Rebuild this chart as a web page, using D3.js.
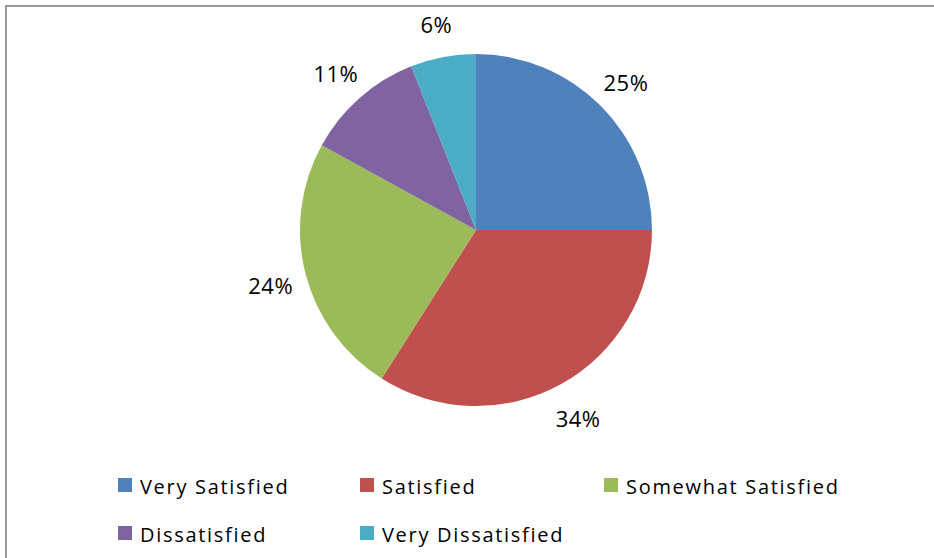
<!DOCTYPE html>
<html>
<head>
<meta charset="utf-8">
<script src="https://cdn.jsdelivr.net/npm/d3@7"></script>
<style>
  html, body { margin: 0; padding: 0; background: #fff; }
  svg { display: block; }
  text { font-family: "Open Sans", "Noto Sans", sans-serif; fill: #000; }
</style>
</head>
<body>
<svg id="chart" width="934" height="558"></svg>
<script>
const categories = ["Very Satisfied", "Satisfied", "Somewhat Satisfied", "Dissatisfied", "Very Dissatisfied"];
const values = [25, 34, 24, 11, 6];
const colors = ["#4F81BD", "#C0504D", "#9BBB59", "#8064A2", "#4BACC6"];

const W = 934, H = 558;
const svg = d3.select("#chart");

// chart frame
svg.append("rect")
  .attr("x", 6).attr("y", 6)
  .attr("width", W + 10).attr("height", H + 10)
  .attr("fill", "none").attr("stroke", "#9a9a9a").attr("stroke-width", 2);

const cx = 476, cy = 230, r = 176;
const total = d3.sum(values);
const data = categories.map((c, i) => ({ cat: c, value: values[i], color: colors[i] }));

const pie = d3.pie().sort(null).value(d => d.value);
const arcs = pie(data);
const arc = d3.arc().innerRadius(0).outerRadius(r);

const g = svg.append("g").attr("transform", `translate(${cx},${cy})`);
g.selectAll("path.slice").data(arcs).enter().append("path")
  .attr("class", "slice")
  .attr("d", arc)
  .attr("fill", d => d.data.color);

// labels outside end
const labelR = 212;
g.selectAll("text.lbl").data(arcs).enter().append("text")
  .attr("class", "lbl")
  .attr("x", d => { const a = (d.startAngle + d.endAngle) / 2; return labelR * Math.sin(a); })
  .attr("y", d => { const a = (d.startAngle + d.endAngle) / 2; return -labelR * Math.cos(a) + 11; })
  .attr("text-anchor", "middle")
  .style("font-size", "22px")
  .style("letter-spacing", "0.5px")
  .text(d => Math.round(d.data.value / total * 100) + "%");

// legend
const colX = [118, 360, 604];
const rowY = [478, 526];
const lg = svg.append("g");
data.forEach((d, i) => {
  const col = i % 3, row = Math.floor(i / 3);
  const x = colX[col], y = rowY[row];
  lg.append("rect").attr("x", x).attr("y", y).attr("width", 14).attr("height", 14).attr("fill", d.color);
  lg.append("text").attr("x", x + 22).attr("y", y + 16)
    .style("font-size", "20px").style("letter-spacing", "1.7px")
    .text(d.cat);
});
</script>
</body>
</html>
